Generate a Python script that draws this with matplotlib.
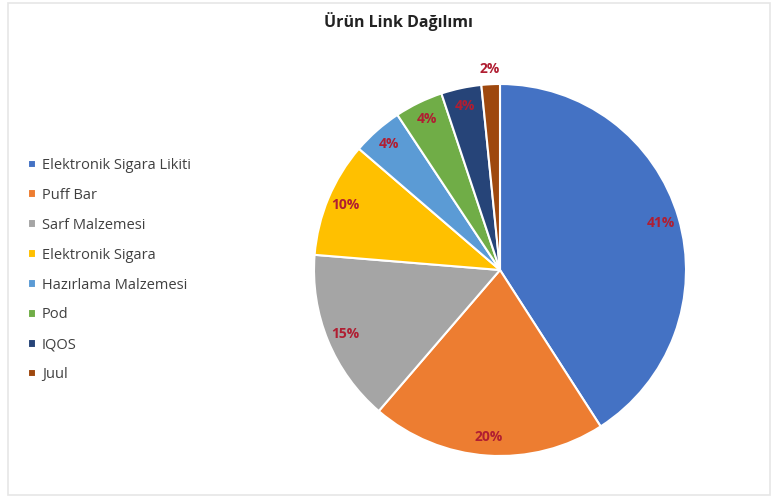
import matplotlib.pyplot as plt
from matplotlib.patches import Rectangle
import numpy as np

categories = ['Elektronik Sigara Likiti', 'Puff Bar', 'Sarf Malzemesi', 'Elektronik Sigara',
              'Hazırlama Malzemesi', 'Pod', 'IQOS', 'Juul']
shares = [40.9, 20.4, 15.0, 10.0, 4.4, 4.2, 3.5, 1.6]
colors = ['#4472C4', '#ED7D31', '#A5A5A5', '#FFC000', '#5B9BD5', '#70AD47', '#264478', '#9E480E']

plt.rcParams['font.family'] = ['Open Sans', 'DejaVu Sans']

fig = plt.figure(figsize=(7.8, 5.03), dpi=100)
W, H = 780, 503

# light frame around the chart area
fig.patches.append(Rectangle((8 / W, 8 / H), 762 / W, 492 / H, transform=fig.transFigure,
                             fill=False, edgecolor='#e6e6e6', linewidth=1.2))

ax = fig.add_axes([314 / W, 47 / H, 372 / W, 372 / H])
wedges, texts, autotexts = ax.pie(shares, colors=colors, startangle=90, counterclock=False,
                                  autopct='%.0f%%', pctdistance=0.9,
                                  wedgeprops=dict(edgecolor='white', linewidth=1.5),
                                  textprops=dict(color='#B01E32', fontsize=10, fontweight='bold'))
ax.set_aspect('equal')
ax.set_xlim(-1, 1)
ax.set_ylim(-1, 1)

# small Juul slice: put its label just outside the pie
w = wedges[-1]
ang = np.deg2rad((w.theta1 + w.theta2) / 2)
autotexts[-1].set_position((1.08 * np.cos(ang), 1.08 * np.sin(ang)))
autotexts[-1].set_clip_on(False)

fig.text(398 / W, 1 - 22 / H, 'Ürün Link Dağılımı', ha='center', va='center',
         fontsize=11.5, fontweight='bold', color='#222222')

leg = fig.legend(wedges, categories, loc='upper left', bbox_to_anchor=(15 / W, 1 - 145 / H),
                 frameon=False, fontsize=10.5, labelspacing=1.02, handlelength=0.55,
                 handleheight=0.55, handletextpad=0.4, labelcolor='#404040')

fig.savefig('out.png', dpi=100)
